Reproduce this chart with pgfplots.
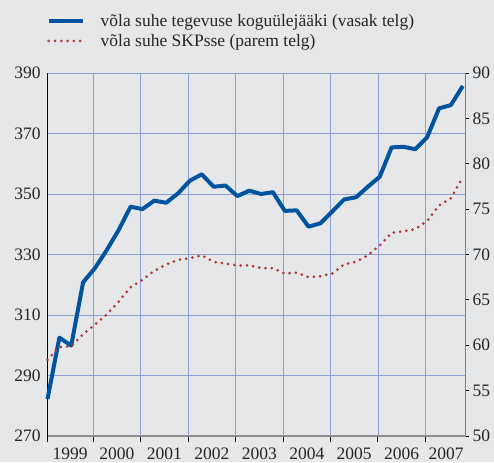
\documentclass[border=0pt]{standalone}
\usepackage{pgfplots}
\pgfplotsset{compat=1.18}
\usepackage{fontspec}
\setmainfont{Liberation Serif}
\definecolor{bgc}{HTML}{E6E7E9}
\definecolor{gridc}{HTML}{8FA0D6}
\definecolor{blueL}{HTML}{00549F}
\definecolor{redL}{HTML}{B23A36}
\pgfplotstableread{
i val
0 282.2
1 302.5
2 299.9
3 320.8
4 325.5
5 331.5
6 338.1
7 345.8
8 345.0
9 347.8
10 347.1
11 350.2
12 354.4
13 356.5
14 352.4
15 352.8
16 349.3
17 351.1
18 350.0
19 350.6
20 344.4
21 344.6
22 339.2
23 340.3
24 344.2
25 348.2
26 348.9
27 352.4
28 355.7
29 365.4
30 365.6
31 364.8
32 368.8
33 378.3
34 379.4
35 385.7
}\debtsurplus
\pgfplotstableread{
i val
0 58.4
1 59.8
2 59.9
3 61.2
4 62.3
5 63.4
6 64.8
7 66.4
8 67.2
9 68.2
10 68.9
11 69.4
12 69.6
13 69.9
14 69.2
15 69.0
16 68.8
17 68.8
18 68.5
19 68.5
20 67.9
21 68.0
22 67.5
23 67.6
24 67.9
25 68.9
26 69.2
27 69.9
28 71.0
29 72.4
30 72.55
31 72.8
32 73.7
33 75.4
34 76.2
35 78.5
}\debtgdp
\begin{document}
\begin{tikzpicture}
\fill[bgc] (0,0) rectangle (494pt,462pt);
\useasboundingbox (0,0) rectangle (494pt,462pt);
\pgfplotsset{
  common/.style={
    at={(47.5pt,26pt)}, anchor=south west,
    scale only axis, width=418pt, height=363pt,
    xmin=0, xmax=35.23,
    ticklabel style={font=\fontsize{17.5}{21}\selectfont, text=black!85},
    /pgf/number format/assume math mode=true,
    clip=false,
  }
}
\begin{axis}[common,
  ymin=270, ymax=390,
  ytick={270,290,...,390},
  xtick={1.9,5.85,9.85,13.85,17.85,21.85,25.85,29.85,33.6},
  xticklabels={1999,2000,2001,2002,2003,2004,2005,2006,2007},
  minor xtick={0,3.85,7.85,11.85,15.85,19.85,23.85,27.85,31.85},
  xminorgrids=true, ymajorgrids=true, xmajorgrids=false,
  grid style={gridc, line width=0.8pt},
  minor grid style={gridc, line width=0.8pt},
  major grid style={gridc, line width=0.8pt},
  axis x line*=bottom, axis y line*=left,
  x axis line style={draw=gray!90, line width=1.6pt},
  y axis line style={draw=black, line width=1pt},
  tick align=outside,
  major tick length=0pt,
  minor tick length=6pt,
  minor tick style={black, line width=0.9pt},
  yticklabel style={xshift=-3.4pt},
  xticklabel style={yshift=-8pt},
]
\addplot[blueL, line width=4pt, line join=round] table[x=i, y=val] {\debtsurplus};
\end{axis}
\begin{axis}[common,
  ymin=50, ymax=90,
  ytick={50,55,...,90},
  axis x line=none, axis y line*=right,
  y axis line style={draw=gray, line width=1pt},
  tick align=outside,
  major tick length=3.5pt,
  tick style={black, line width=0.9pt},
  legend image code/.code={\draw[#1] (0pt,0pt) -- (34pt,0pt);},
  legend style={draw=none, fill=none, at={(0,1)}, anchor=south west,
    xshift=-1pt, yshift=24pt, inner sep=0pt, row sep=4pt, column sep=15pt,
    font=\fontsize{17.5}{21}\selectfont, text=black!85,
    nodes={inner sep=1pt}},
  legend cell align=left,
]
\addlegendimage{blueL, line width=4pt}
\addlegendentry{võla suhe tegevuse koguülejääki (vasak telg)}
\addplot[redL, line width=3pt, line cap=round, dash pattern=on 0pt off 6.3pt] table[x=i, y=val] {\debtgdp};
\addlegendentry{võla suhe SKPsse (parem telg)}
\end{axis}
\end{tikzpicture}
\end{document}
